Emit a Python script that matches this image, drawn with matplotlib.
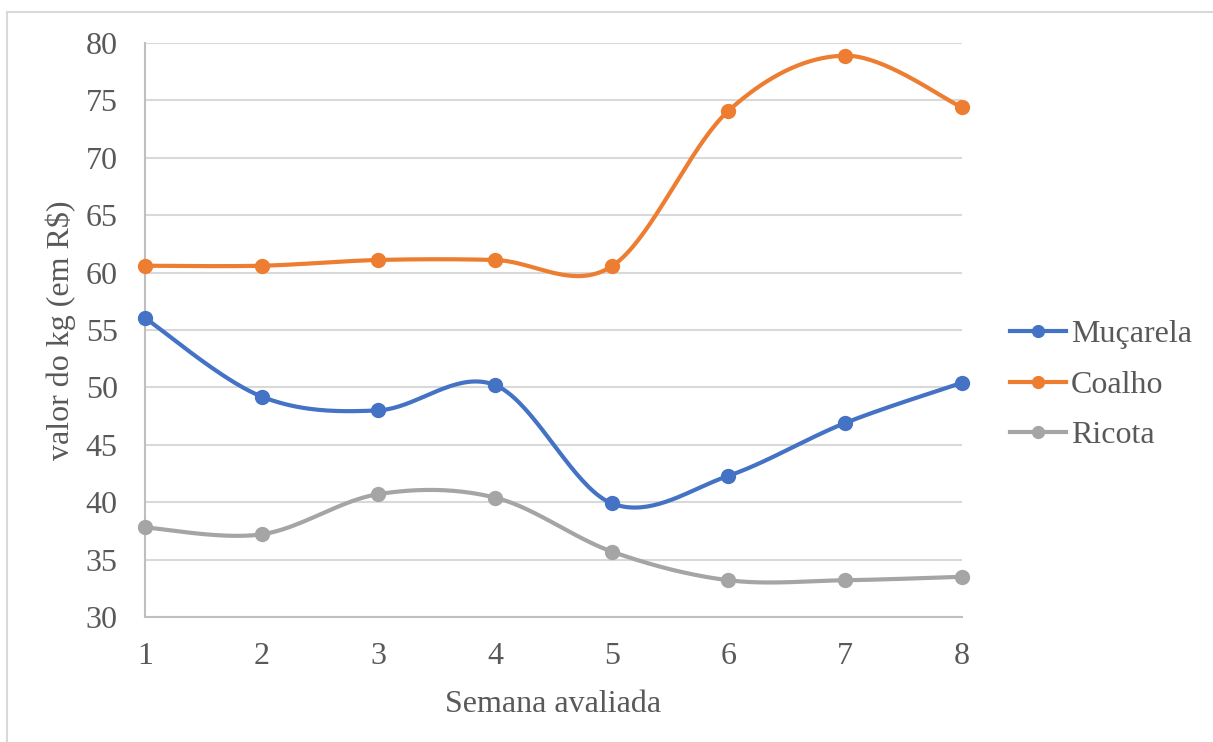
import numpy as np
import matplotlib
matplotlib.use("Agg")
import matplotlib.pyplot as plt
from matplotlib.lines import Line2D

# Weekly price per kg (R$) for three cheeses
weeks = [1, 2, 3, 4, 5, 6, 7, 8]
mucarela = [56.05, 49.2, 48.0, 50.2, 39.9, 42.3, 46.9, 50.4]
coalho = [60.6, 60.6, 61.1, 61.1, 60.55, 74.1, 78.9, 74.4]
ricota = [37.8, 37.2, 40.7, 40.4, 35.7, 33.2, 33.2, 33.5]

series_names = ["Muçarela", "Coalho", "Ricota"]
colors = ["#4472C4", "#ED7D31", "#A5A5A5"]
yticks = [30, 35, 40, 45, 50, 55, 60, 65, 70, 75, 80]

plt.rcParams["font.family"] = ["Liberation Serif", "DejaVu Serif"]
text_color = "#595959"
fs = 23


def smooth(x, y, n=40):
    """Catmull-Rom style cubic Bezier through every point."""
    x = np.asarray(x, float)
    y = np.asarray(y, float)
    px = np.concatenate([[x[0]], x, [x[-1]]])
    py = np.concatenate([[y[0]], y, [y[-1]]])
    t = np.linspace(0, 1, n)[:, None]
    xs, ys = [], []
    for i in range(len(x) - 1):
        p0 = np.array([px[i + 1], py[i + 1]])
        p3 = np.array([px[i + 2], py[i + 2]])
        c1 = p0 + (p3 - np.array([px[i], py[i]])) / 6.0
        c2 = p3 - (np.array([px[i + 3], py[i + 3]]) - p0) / 6.0
        pts = ((1 - t) ** 3) * p0 + 3 * ((1 - t) ** 2) * t * c1 \
            + 3 * (1 - t) * t ** 2 * c2 + t ** 3 * p3
        xs.append(pts[:, 0])
        ys.append(pts[:, 1])
    return np.concatenate(xs), np.concatenate(ys)


fig = plt.figure(figsize=(12.13, 7.42), dpi=100)
ax = fig.add_axes([0.1195, 0.1685, 0.6735, 0.7735])

handles = []
for name, vals, c in zip(series_names, [mucarela, coalho, ricota], colors):
    sx, sy = smooth(weeks, vals)
    ax.plot(sx, sy, color=c, lw=3.0, solid_capstyle="round", zorder=3,
            clip_on=False)
    ax.plot(weeks, vals, "o", color=c, ms=10, zorder=4, clip_on=False)
    handles.append(Line2D([], [], color=c, lw=3.0, marker="o", ms=8.5))

ax.set_xlim(1, 8)
ax.set_ylim(30, 80)
ax.set_yticks(yticks)
ax.set_xticks(weeks)
ax.grid(axis="y", color="#D9D9D9", lw=1.5, zorder=0)
ax.set_axisbelow(True)
for s in ["top", "right"]:
    ax.spines[s].set_visible(False)
for s in ["left", "bottom"]:
    ax.spines[s].set_color("#BFBFBF")
    ax.spines[s].set_linewidth(1.5)
ax.tick_params(axis="both", length=0, labelsize=fs, labelcolor=text_color)
ax.tick_params(axis="y", pad=19.5)
ax.tick_params(axis="x", pad=18)
ax.set_xlabel("Semana avaliada", fontsize=fs, color=text_color, labelpad=14)
ax.set_ylabel("valor do kg (em R$)", fontsize=fs, color=text_color)
ax.yaxis.set_label_coords(-0.084, 0.5)

leg = fig.legend(handles, series_names, loc="center left",
                 bbox_to_anchor=(0.8195, 0.481), frameon=False, borderpad=0,
                 fontsize=fs, handlelength=1.75, handletextpad=0.15,
                 labelspacing=0.66)
for t in leg.get_texts():
    t.set_color(text_color)

# chart frame (top and left edges)
fig.add_artist(Line2D([7 / 1213, 1], [1 - 12 / 742, 1 - 12 / 742],
                      transform=fig.transFigure, color="#D9D9D9", lw=1.5))
fig.add_artist(Line2D([7 / 1213, 7 / 1213], [0, 1 - 12 / 742],
                      transform=fig.transFigure, color="#D9D9D9", lw=1.5))

fig.savefig("out.png", dpi=100)
